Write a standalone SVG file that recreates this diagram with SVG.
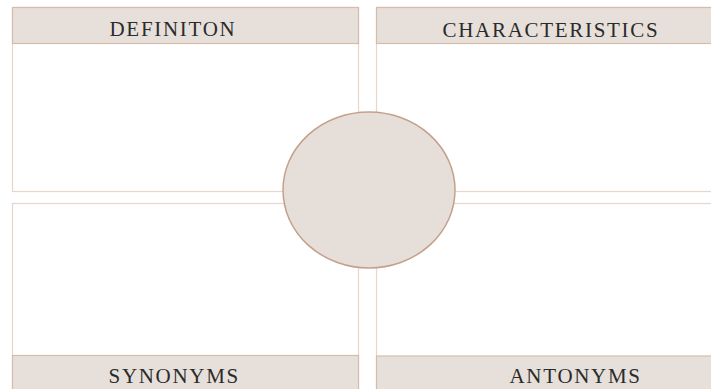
<svg xmlns="http://www.w3.org/2000/svg" width="711" height="389" viewBox="0 0 711 389">
<style>
.box{fill:#FFFFFF;stroke:#E6D6CB;stroke-width:1.2}
.hdr{fill:#E7E0DA;stroke:#D5BBA9;stroke-width:1.2}
.lbl{font-family:"Liberation Serif","Times New Roman",serif;font-size:21px;letter-spacing:1.7px;fill:#2B2B2B}
</style>
<rect x="0" y="0" width="711" height="389" fill="#FFFFFF"/>
<g id="definition">
<rect class="box" x="12.5" y="7.5" width="346" height="184"/>
<rect class="hdr" x="12.5" y="7.5" width="346" height="36"/>
<text class="lbl" x="109.5" y="36">DEFINITON</text>
</g>
<g id="characteristics">
<rect class="box" x="376.5" y="7.5" width="346" height="184"/>
<rect class="hdr" x="376.5" y="7.5" width="346" height="36"/>
<text class="lbl" x="442.5" y="36.5">CHARACTERISTICS</text>
</g>
<g id="synonyms">
<rect class="box" x="12.5" y="203.5" width="346" height="195"/>
<rect class="hdr" x="12.5" y="355.5" width="346" height="43"/>
<text class="lbl" x="108.5" y="382.5">SYNONYMS</text>
</g>
<g id="antonyms">
<rect class="box" x="376.5" y="203.5" width="346" height="195"/>
<rect class="hdr" x="376.5" y="356" width="346" height="43"/>
<text class="lbl" x="509.5" y="383">ANTONYMS</text>
</g>
<g id="center">
<ellipse cx="369" cy="190" rx="86" ry="78" fill="#E6DFD9" stroke="#C4A08A" stroke-width="1.5"/>
</g>
<g id="connectors"></g>
</svg>
